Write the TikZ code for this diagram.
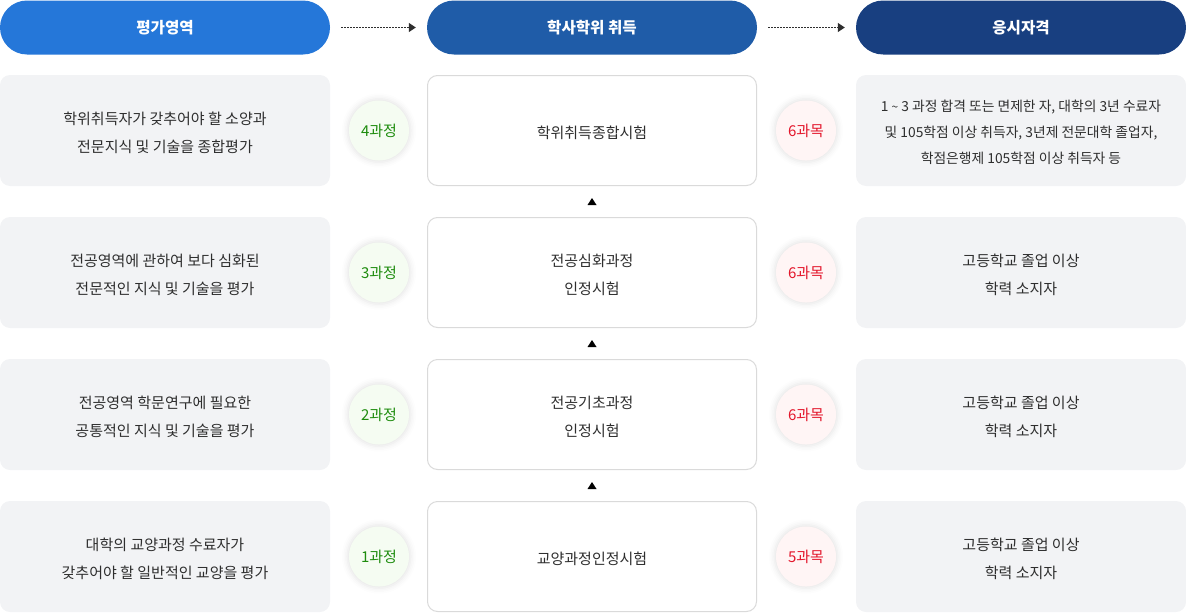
\documentclass[tikz,border=0pt]{standalone}
\usepackage{fontspec}
\setmainfont{Noto Sans CJK KR}
\usetikzlibrary{arrows.meta,calc,shadows.blur}
\definecolor{hA}{HTML}{2577D9}
\definecolor{hB}{HTML}{1F5CA8}
\definecolor{hC}{HTML}{183F80}
\definecolor{boxgray}{HTML}{F2F3F5}
\definecolor{bordergray}{HTML}{DADADA}
\definecolor{txt}{HTML}{2E2E2E}
\definecolor{gfill}{HTML}{F5FCF2}
\definecolor{gtext}{HTML}{1E8C0E}
\definecolor{rfill}{HTML}{FFF5F5}
\definecolor{rtext}{HTML}{E3162B}
\newcommand\lowtext[1]{\raisebox{-2pt}[\height][\depth]{\begin{tabular}{@{}c@{}}#1\end{tabular}}}
\begin{document}
\begin{tikzpicture}[x=1pt,y=-1pt,
  hdr/.style={fill=#1, rounded corners=27pt, minimum width=330pt, minimum height=54pt, inner sep=0pt, text=white, font=\fontsize{15.6}{20}\selectfont\bfseries},
  graybox/.style={fill=boxgray, rounded corners=10pt, minimum width=330pt, minimum height=111pt, inner sep=0pt, text=txt, font=\fontsize{15}{28}\selectfont},
  whitebox/.style={fill=white, draw=bordergray, line width=1pt, rounded corners=10pt, minimum width=329pt, minimum height=110pt, inner sep=0pt, text=txt, font=\fontsize{15}{28}\selectfont},
  badge/.style={circle, minimum size=60pt, inner sep=0pt, font=\fontsize{15}{16}\selectfont,
     blur shadow={shadow xshift=0pt, shadow yshift=0pt, shadow blur radius=5pt, shadow opacity=10, shadow scale=1.06}},
  gbadge/.style={badge, fill=gfill, text=gtext},
  rbadge/.style={badge, fill=rfill, text=rtext},
  dotarrow/.style={draw=txt, line width=1.4pt, dash pattern=on 1.4pt off 1.6pt, shorten <=11pt, shorten >=11pt, -{Triangle[length=7pt,width=9pt,sep=0pt]}},
]
\useasboundingbox (0,0) rectangle (1186,613);

% headers
\node[hdr=hA] (h1) at (165,27.5) {평가영역};
\node[hdr=hB] (h2) at (592,27.5) {학사학위 취득};
\node[hdr=hC] (h3) at (1021,27.5) {응시자격};
\draw[dotarrow] (h1) -- (h2);
\draw[dotarrow] (h2) -- (h3);

\node[graybox] (l1) at (165,130.5) {\lowtext{학위취득자가 갖추어야 할 소양과\\전문지식 및 기술을 종합평가}};
\node[graybox] (l2) at (165,272.5) {\lowtext{전공영역에 관하여 보다 심화된\\전문적인 지식 및 기술을 평가}};
\node[graybox] (l3) at (165,414.5) {\lowtext{전공영역 학문연구에 필요한\\공통적인 지식 및 기술을 평가}};
\node[graybox] (l4) at (165,556.5) {\lowtext{대학의 교양과정 수료자가\\갖추어야 할 일반적인 교양을 평가}};

\node[gbadge] (g1) at (379,130.5) {4과정};
\node[gbadge] (g2) at (379,272.5) {3과정};
\node[gbadge] (g3) at (379,414.5) {2과정};
\node[gbadge] (g4) at (379,556.5) {1과정};

\node[whitebox] (m1) at (592,130.5) {\lowtext{학위취득종합시험}};
\node[whitebox] (m2) at (592,272.5) {\lowtext{전공심화과정\\인정시험}};
\node[whitebox] (m3) at (592,414.5) {\lowtext{전공기초과정\\인정시험}};
\node[whitebox] (m4) at (592,556.5) {\lowtext{교양과정인정시험}};

\node[rbadge] (p1) at (806,130.5) {6과목};
\node[rbadge] (p2) at (806,272.5) {6과목};
\node[rbadge] (p3) at (806,414.5) {6과목};
\node[rbadge] (p4) at (806,556.5) {5과목};

\node[graybox, font=\fontsize{13.8}{26}\selectfont] (q1) at (1021,130.5) {\lowtext{1 {\fontsize{12}{12}\selectfont\raisebox{0.5pt}{\textasciitilde}} 3 과정 합격 또는 면제한 자, 대학의 3년 수료자\\및 105학점 이상 취득자, 3년제 전문대학 졸업자,\\학점은행제 105학점 이상 취득자 등}};
\node[graybox] (q2) at (1021,272.5) {\lowtext{고등학교 졸업 이상\\학력 소지자}};
\node[graybox] (q3) at (1021,414.5) {\lowtext{고등학교 졸업 이상\\학력 소지자}};
\node[graybox] (q4) at (1021,556.5) {\lowtext{고등학교 졸업 이상\\학력 소지자}};

% up triangles between middle boxes
\foreach \a/\b in {m2/m1,m3/m2,m4/m3}{
  \fill[black] ($(\a.north)!0.5!(\b.south)$) ++(0,-3.5) -- ++(4.5,7) -- ++(-9,0) -- cycle;
}
\end{tikzpicture}
\end{document}
